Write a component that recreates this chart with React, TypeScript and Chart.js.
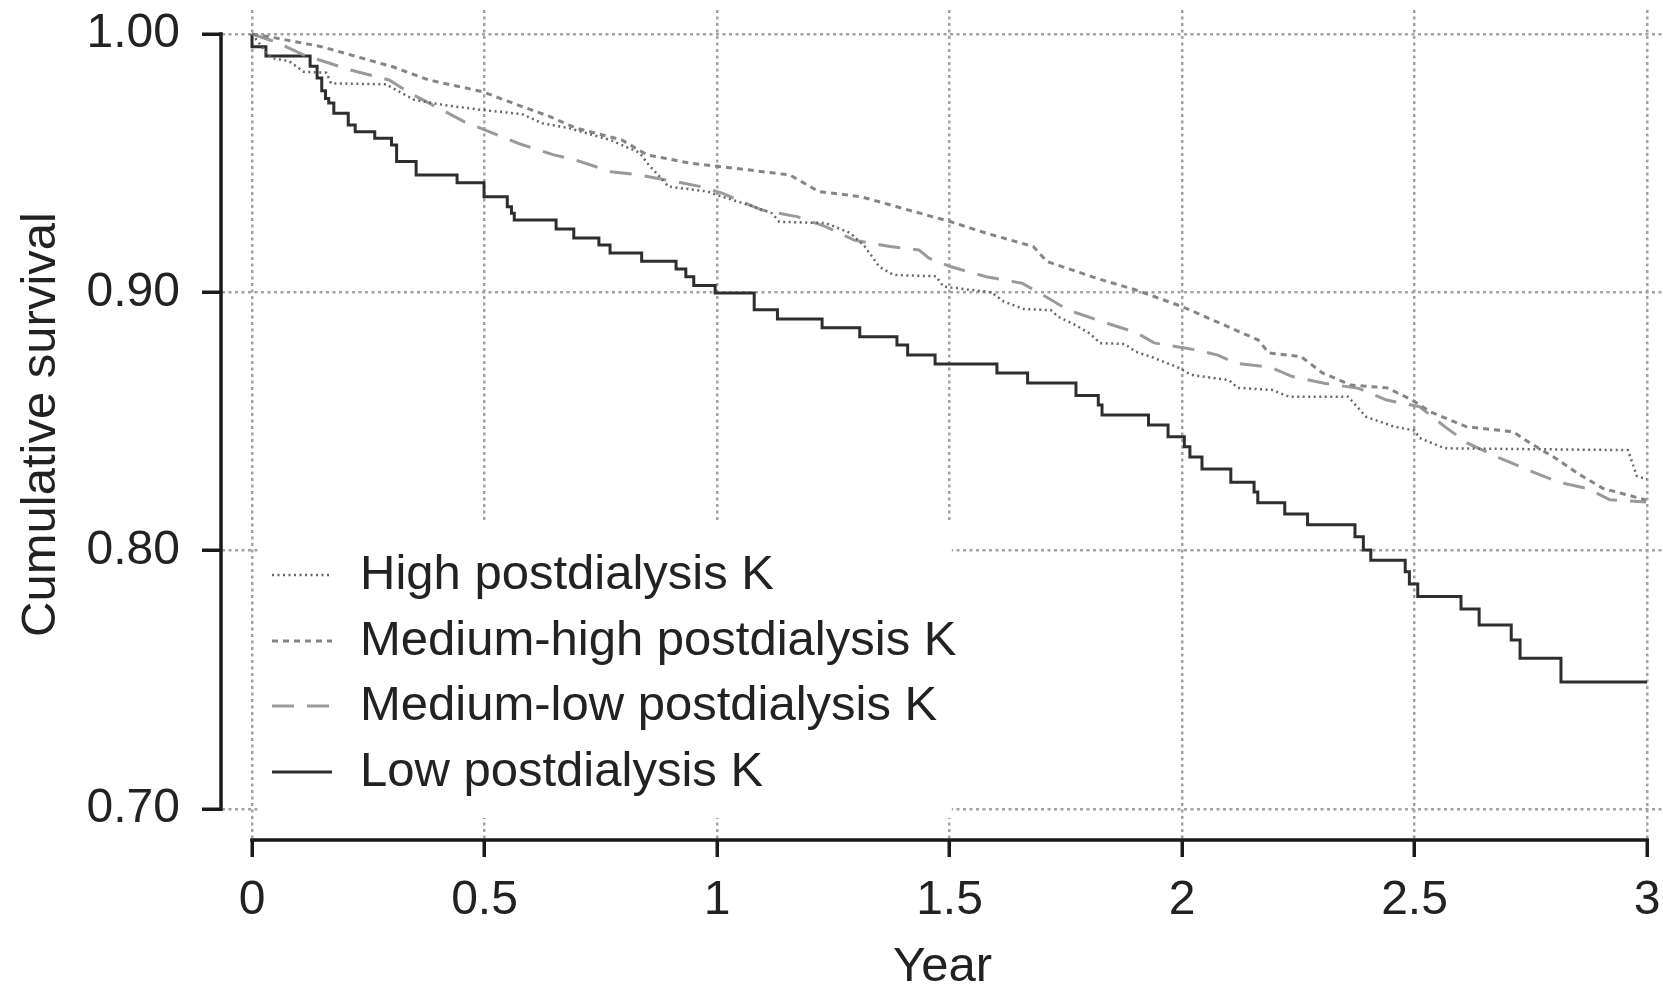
import React, { useEffect, useRef } from "react";
import { Chart, registerables } from "chart.js";

Chart.register(...registerables);

const FONT = '"Liberation Sans", Arial, Helvetica, sans-serif';

const seriesNames = [
  "High postdialysis K",
  "Medium-high postdialysis K",
  "Medium-low postdialysis K",
  "Low postdialysis K",
];

const xTicks = [0, 0.5, 1, 1.5, 2, 2.5, 3];
const yTicks = [0.7, 0.8, 0.9, 1.0];

// High postdialysis K (dotted)
const highT = [0, 0.03, 0.042, 0.08, 0.111, 0.16, 0.17, 0.288, 0.349, 0.42, 0.495, 0.58, 0.625, 0.681, 0.77, 0.834, 0.85, 0.896, 0.981, 1.003, 1.08, 1.118, 1.134, 1.234, 1.287, 1.318, 1.349, 1.38, 1.471, 1.487, 1.59, 1.617, 1.66, 1.718, 1.733, 1.771, 1.802, 1.824, 1.877, 1.9, 1.94, 1.994, 2.02, 2.101, 2.12, 2.194, 2.23, 2.357, 2.396, 2.456, 2.5, 2.511, 2.565, 2.959, 2.978, 3.0];
const highS = [1.0, 0.993, 0.9907, 0.9895, 0.9854, 0.985, 0.9809, 0.9805, 0.9745, 0.9723, 0.9706, 0.969, 0.9654, 0.9636, 0.959, 0.954, 0.95, 0.9409, 0.939, 0.9375, 0.9331, 0.9306, 0.9273, 0.9268, 0.9229, 0.9177, 0.9099, 0.9067, 0.9062, 0.9022, 0.9, 0.8964, 0.8935, 0.8931, 0.8906, 0.8873, 0.884, 0.8803, 0.88, 0.877, 0.8746, 0.8707, 0.868, 0.866, 0.863, 0.8622, 0.8596, 0.8596, 0.8518, 0.848, 0.8465, 0.8436, 0.8396, 0.8389, 0.8289, 0.8276];

// Medium-high postdialysis K (short dashes)
const medHighT = [0, 0.05, 0.149, 0.226, 0.303, 0.38, 0.495, 0.572, 0.641, 0.696, 0.795, 0.85, 0.942, 1.04, 1.157, 1.219, 1.31, 1.387, 1.503, 1.579, 1.68, 1.71, 1.817, 1.901, 2.001, 2.148, 2.164, 2.187, 2.256, 2.302, 2.363, 2.441, 2.495, 2.533, 2.611, 2.712, 2.75, 2.804, 2.851, 2.905, 2.998];
const medHighS = [1.0, 0.9985, 0.9951, 0.9912, 0.9873, 0.9822, 0.9777, 0.9725, 0.968, 0.9636, 0.959, 0.9532, 0.95, 0.948, 0.9454, 0.939, 0.937, 0.9331, 0.9273, 0.9229, 0.9177, 0.9119, 0.9054, 0.9009, 0.8944, 0.8828, 0.8815, 0.8765, 0.8751, 0.8688, 0.8641, 0.863, 0.8583, 0.8538, 0.848, 0.846, 0.8415, 0.8357, 0.8299, 0.8241, 0.8196];

// Medium-low postdialysis K (long dashes)
const medLowT = [0, 0.05, 0.111, 0.211, 0.295, 0.341, 0.457, 0.572, 0.649, 0.696, 0.772, 0.834, 0.912, 0.965, 1.011, 1.095, 1.172, 1.234, 1.295, 1.372, 1.434, 1.456, 1.503, 1.579, 1.656, 1.695, 1.756, 1.817, 1.9, 1.94, 2.03, 2.077, 2.116, 2.19, 2.237, 2.306, 2.38, 2.44, 2.511, 2.565, 2.615, 2.681, 2.75, 2.81, 2.873, 2.92, 2.998];
const medLowS = [1.0, 0.997, 0.9919, 0.9861, 0.9822, 0.977, 0.966, 0.9577, 0.9532, 0.9512, 0.9467, 0.9454, 0.9428, 0.9409, 0.9384, 0.9319, 0.9293, 0.9254, 0.9202, 0.9177, 0.9164, 0.9132, 0.9099, 0.906, 0.9035, 0.8996, 0.8931, 0.8893, 0.8845, 0.8804, 0.8777, 0.8757, 0.8725, 0.871, 0.8674, 0.8648, 0.8628, 0.8583, 0.8557, 0.848, 0.8415, 0.836, 0.8308, 0.8265, 0.824, 0.8197, 0.8188];

// Low postdialysis K (solid, step function)
const lowT = [0, 0.03, 0.125, 0.14, 0.15, 0.158, 0.165, 0.176, 0.207, 0.222, 0.264, 0.3, 0.311, 0.353, 0.441, 0.499, 0.549, 0.558, 0.564, 0.654, 0.692, 0.746, 0.77, 0.838, 0.912, 0.933, 0.95, 0.996, 1.08, 1.13, 1.226, 1.307, 1.387, 1.41, 1.469, 1.602, 1.668, 1.772, 1.82, 1.828, 1.928, 1.97, 2.005, 2.017, 2.043, 2.105, 2.155, 2.163, 2.221, 2.27, 2.372, 2.39, 2.406, 2.48, 2.489, 2.507, 2.6, 2.639, 2.708, 2.727, 2.815, 2.833, 3.0];
const lowS = [1.0, 0.9951, 0.9915, 0.9875, 0.983, 0.978, 0.975, 0.9733, 0.9693, 0.9648, 0.9622, 0.9596, 0.957, 0.9506, 0.9454, 0.9424, 0.937, 0.9331, 0.9306, 0.928, 0.9245, 0.921, 0.9183, 0.9152, 0.912, 0.909, 0.906, 0.9026, 0.8997, 0.8932, 0.8897, 0.8863, 0.8828, 0.8796, 0.8757, 0.8722, 0.8688, 0.8649, 0.86, 0.8564, 0.8525, 0.8486, 0.8441, 0.8402, 0.8362, 0.8316, 0.8265, 0.8227, 0.8185, 0.8142, 0.81, 0.8054, 0.8002, 0.7963, 0.7918, 0.7871, 0.7822, 0.7774, 0.7712, 0.7654, 0.7583, 0.7491, 0.7491];

const toPoints = (t: number[], s: number[]) => t.map((x, i) => ({ x, y: s[i] }));

const decorPlugin = {
  id: "kmDecor",
  beforeDatasetsDraw(chart: any) {
    const { ctx } = chart;
    const x = chart.scales.x;
    const y = chart.scales.y;
    // white legend panel hiding the grid behind it
    const l = x.getPixelForValue(0.012);
    const r = x.getPixelForValue(1.505);
    const t = y.getPixelForValue(0.811);
    const b = y.getPixelForValue(0.6965);
    ctx.save();
    ctx.fillStyle = "#ffffff";
    ctx.fillRect(l, t, r - l, b - t);
    ctx.restore();
  },
  afterDatasetsDraw(chart: any) {
    const { ctx, chartArea } = chart;
    const x = chart.scales.x;
    const y = chart.scales.y;
    ctx.save();
    // axis lines (R style, spanning the tick range only)
    ctx.strokeStyle = "#1a1a1a";
    ctx.lineWidth = 3.5;
    ctx.setLineDash([]);
    ctx.beginPath();
    ctx.moveTo(chartArea.left - 1, y.getPixelForValue(1.0) - 1.75);
    ctx.lineTo(chartArea.left - 1, y.getPixelForValue(0.7) + 1.75);
    ctx.stroke();
    ctx.beginPath();
    ctx.moveTo(x.getPixelForValue(0) - 1.75, chartArea.bottom + 1);
    ctx.lineTo(x.getPixelForValue(3) + 1.75, chartArea.bottom + 1);
    ctx.stroke();

    // legend
    const rowsY = [575, 641, 706, 772];
    const sx0 = 272;
    const sx1 = 332;
    const tx = 360;
    chart.data.datasets.forEach((ds: any, i: number) => {
      const yy = rowsY[i];
      ctx.strokeStyle = ds.borderColor;
      ctx.lineWidth = ds.borderWidth;
      ctx.setLineDash(ds.borderDash || []);
      ctx.beginPath();
      ctx.moveTo(sx0, yy);
      ctx.lineTo(sx1, yy);
      ctx.stroke();
      ctx.setLineDash([]);
      ctx.fillStyle = "#222222";
      ctx.font = `49px ${FONT}`;
      ctx.textBaseline = "middle";
      ctx.textAlign = "left";
      ctx.fillText(ds.label, tx, yy);
    });
    ctx.restore();
  },
};

export default function App() {
  const canvasRef = useRef<HTMLCanvasElement | null>(null);

  useEffect(() => {
    if (!canvasRef.current) return;
    Chart.defaults.font.family = FONT;
    const gridCommon = {
      color: "#a2a2a2",
      lineWidth: 2.5,
      tickColor: "#1a1a1a",
      tickWidth: 3.5,
      tickBorderDash: [],
    };
    const chart = new Chart(canvasRef.current, {
      type: "line",
      data: {
        datasets: [
          {
            label: seriesNames[0],
            data: toPoints(highT, highS),
            borderColor: "#666666",
            borderWidth: 2.5,
            borderDash: [2, 3.5],
            pointRadius: 0,
            fill: false,
            tension: 0,
          },
          {
            label: seriesNames[1],
            data: toPoints(medHighT, medHighS),
            borderColor: "#858585",
            borderWidth: 3,
            borderDash: [6, 5],
            pointRadius: 0,
            fill: false,
            tension: 0,
          },
          {
            label: seriesNames[2],
            data: toPoints(medLowT, medLowS),
            borderColor: "#9a9a9a",
            borderWidth: 3,
            borderDash: [22, 13],
            pointRadius: 0,
            fill: false,
            tension: 0,
          },
          {
            label: seriesNames[3],
            data: toPoints(lowT, lowS),
            borderColor: "#2e2e2e",
            borderWidth: 3,
            borderDash: [],
            stepped: "after",
            pointRadius: 0,
            fill: false,
            tension: 0,
          },
        ],
      },
      options: {
        responsive: false,
        animation: false,
        devicePixelRatio: 1,
        layout: { padding: { top: 10, left: 0, right: 0, bottom: 0 } },
        plugins: {
          legend: { display: false },
          tooltip: { enabled: false },
        },
        scales: {
          x: {
            type: "linear",
            min: -0.0645,
            max: 3.0344,
            afterBuildTicks: (s: any) => {
              s.ticks = xTicks.map((v) => ({ value: v }));
            },
            afterFit: (s: any) => {
              s.height = 151;
              s.paddingLeft = 0;
              s.paddingRight = 0;
              s.paddingTop = 0;
              s.paddingBottom = 0;
            },
            ticks: {
              callback: (v: any) => String(v),
              font: { size: 48, family: FONT },
              color: "#222222",
              padding: 15,
              maxRotation: 0,
              autoSkip: false,
            },
            grid: { ...gridCommon, tickLength: 18 },
            border: { display: false, dash: [3, 3.5] },
            title: {
              display: true,
              text: "Year",
              color: "#222222",
              font: { size: 49, family: FONT, lineHeight: 0.9 },
              padding: { top: 0, bottom: 0 },
            },
          },
          y: {
            type: "linear",
            min: 0.68835,
            max: 1.00929,
            afterBuildTicks: (s: any) => {
              s.ticks = yTicks.map((v) => ({ value: v }));
            },
            afterFit: (s: any) => {
              s.width = 222;
              s.paddingLeft = 0;
              s.paddingRight = 0;
              s.paddingTop = 0;
              s.paddingBottom = 0;
            },
            ticks: {
              callback: (v: any) => Number(v).toFixed(2),
              font: { size: 48, family: FONT },
              color: "#222222",
              padding: 22,
              autoSkip: false,
            },
            grid: { ...gridCommon, tickLength: 20 },
            border: { display: false, dash: [3, 3.5] },
            title: {
              display: true,
              text: "Cumulative survival",
              color: "#222222",
              font: { size: 49, family: FONT, lineHeight: 1.2 },
              padding: { top: 12, bottom: 0 },
            },
          },
        },
      },
      plugins: [decorPlugin],
    } as any);
    return () => {
      chart.destroy();
    };
  }, []);

  return (
    <div
      style={{
        position: "fixed",
        left: 0,
        top: 0,
        width: 1663,
        height: 990,
        background: "#ffffff",
      }}
    >
      <canvas
        ref={canvasRef}
        width={1663}
        height={990}
        style={{ display: "block", width: 1663, height: 990 }}
      />
    </div>
  );
}
